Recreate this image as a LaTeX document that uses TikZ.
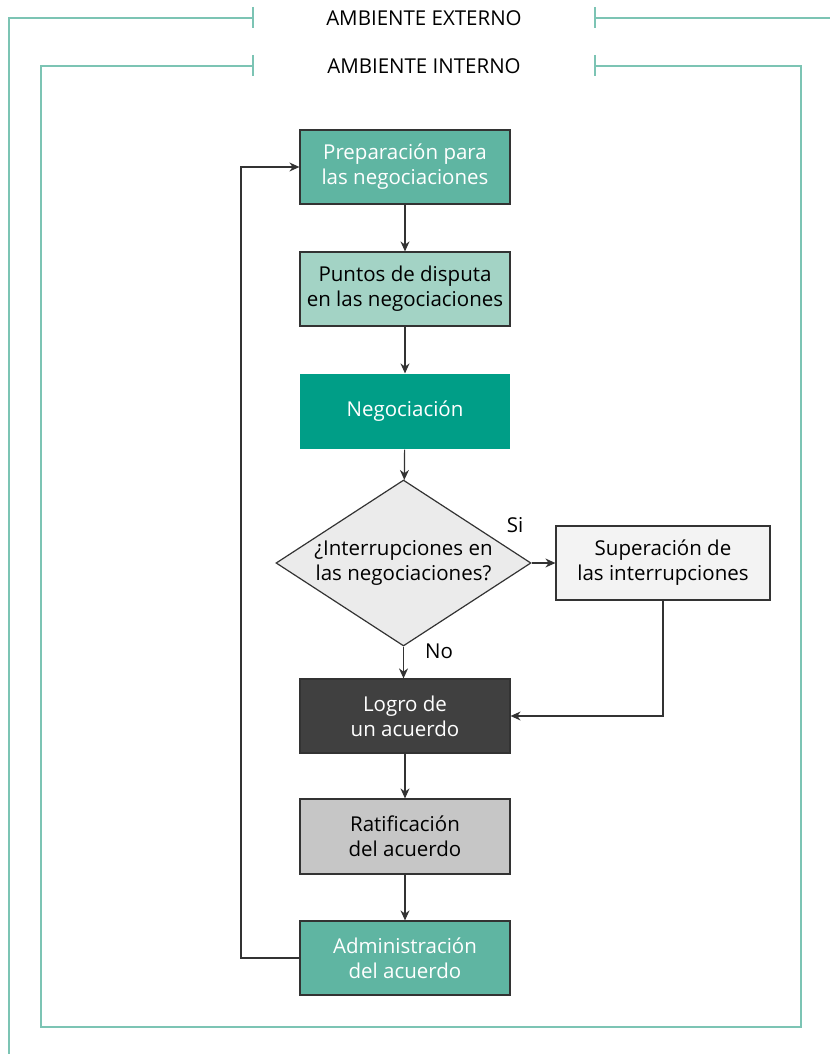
\documentclass[tikz,border=0pt]{standalone}
\usepackage{fontspec}
\setmainfont{Open Sans}
\usetikzlibrary{shapes.geometric,arrows.meta}
\definecolor{frame}{HTML}{7CC4B4}
\definecolor{tealA}{HTML}{5FB5A2}
\definecolor{tealB}{HTML}{A3D3C5}
\definecolor{tealC}{HTML}{009E87}
\definecolor{lgrey}{HTML}{EBEBEB}
\definecolor{dgrey}{HTML}{404040}
\definecolor{mgrey}{HTML}{C6C6C6}
\definecolor{lineC}{HTML}{333333}
\tikzset{
  fr/.style={draw=frame, line width=1.2pt},
  box/.style={draw=lineC, line width=1.2pt, minimum width=210pt, minimum height=74pt, align=center, inner sep=0pt, font=\fontsize{20.5}{25}\selectfont},
  conn/.style={draw=lineC, line width=1.2pt, -{Stealth[length=10pt,width=9pt]}},
  lab/.style={font=\fontsize{20.5}{25}\selectfont, text=black}
}
\begin{document}
\begin{tikzpicture}[x=1pt,y=-1pt]
\useasboundingbox (0,0) rectangle (830,1054);
% outer frame
\draw[fr] (253,18) -- (9,18) -- (9,1054);
\draw[fr] (595,18) -- (830,18);
\draw[fr] (253,7) -- (253,28);
\draw[fr] (595,7) -- (595,28);
\node[lab] (ext) at (424,18) {AMBIENTE EXTERNO};
% inner frame
\draw[fr] (253,66) -- (41,66) -- (41,1027) -- (801,1027) -- (801,66) -- (595,66);
\draw[fr] (253,55) -- (253,76);
\draw[fr] (595,55) -- (595,76);
\node[lab] (int) at (424,66) {AMBIENTE INTERNO};
% boxes
\node[box, fill=tealA, text=white] (b1) at (405,167) {Preparación para\\las negociaciones};
\node[box, fill=tealB, text=black] (b2) at (405,289) {Puntos de disputa\\en las negociaciones};
\node[box, draw=none, fill=tealC, text=white, minimum height=75pt] (b3) at (405,411.5) {Negociación};
\node[diamond, draw=lineC, line width=1.2pt, fill=lgrey, minimum width=255pt, minimum height=166pt, inner sep=0pt, aspect=1.536, align=center, font=\fontsize{20.5}{25}\selectfont] (d) at (403.5,563) {¿Interrupciones en\\las negociaciones?};
\node[box, fill=lgrey!60!white, text=black, minimum width=214pt] (s) at (663,563) {Superación de\\las interrupciones};
\node[box, fill=dgrey, text=white] (b4) at (405,716) {Logro de\\un acuerdo};
\node[box, fill=mgrey, text=black, minimum height=75pt] (b5) at (405,836.5) {Ratificación\\del acuerdo};
\node[box, fill=tealA, text=white] (b6) at (405,958) {Administración\\del acuerdo};
% connectors
\draw[conn] (b1) -- (b2);
\draw[conn] (b2) -- (b3);
\draw[conn] (b3) -- (d);
\draw[conn] (d) -- (s);
\draw[conn] (d.south) -- (b4.north-|d.south);
\draw[conn] (s.south) |- (b4.east);
\draw[conn] (b5.north|-b4.south) -- (b5);
\draw[conn] (b5) -- (b6);
\coordinate (lp) at (241,958);
\draw[conn] (b6.west) -- (lp) |- (b1.west);
\node[lab] (si) at (515,525) {Si};
\node[lab] (no) at (439,651) {No};
\end{tikzpicture}
\end{document}
